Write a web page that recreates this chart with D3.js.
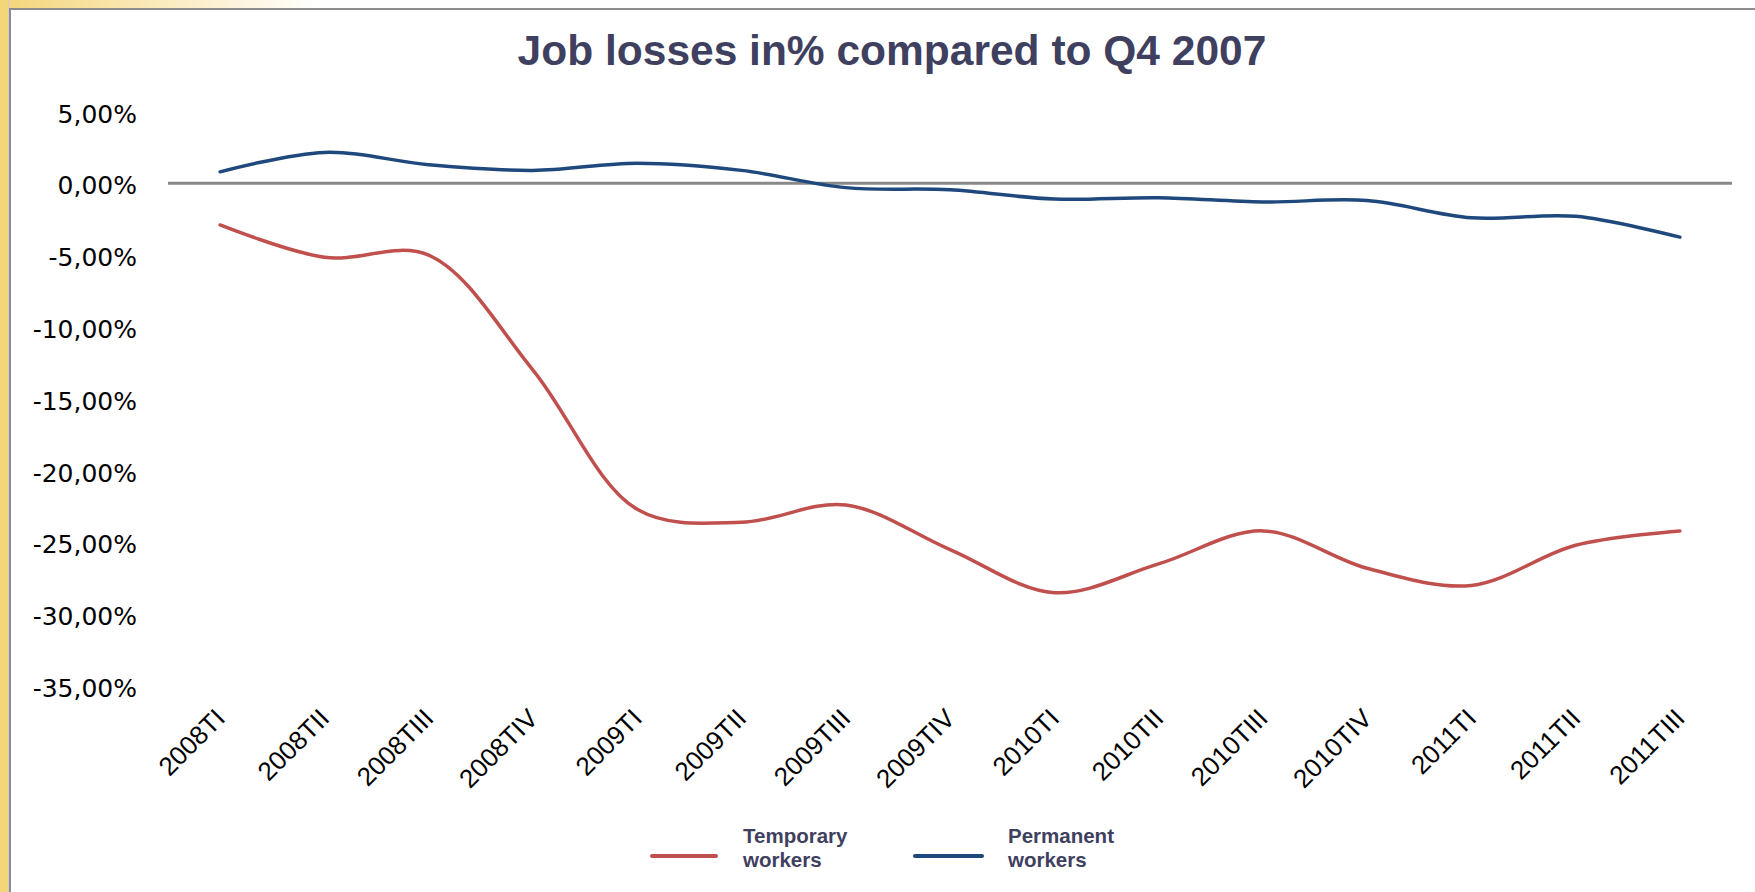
<!DOCTYPE html>
<html>
<head>
<meta charset="utf-8">
<script src="https://cdn.jsdelivr.net/npm/d3@7"></script>
<style>
  body { margin: 0; background: #fff; }
  svg { display: block; }
</style>
</head>
<body>
<svg id="chart"></svg>
<script>
// Quarters on the x axis
const quarters = ["2008TI", "2008TII", "2008TIII", "2008TIV", "2009TI", "2009TII", "2009TIII", "2009TIV",
    "2010TI", "2010TII", "2010TIII", "2010TIV", "2011TI", "2011TII", "2011TIII"];

// Job losses in % vs Q4 2007
const temporary = [-2.9, -5.15, -5.0, -13.0, -22.7, -23.6, -22.4, -25.5, -28.5, -26.5, -24.2, -26.8, -28.0, -25.2, -24.2];
const permanent = [0.8, 2.15, 1.3, 0.9, 1.4, 0.9, -0.3, -0.45, -1.1, -1.0, -1.3, -1.2, -2.4, -2.3, -3.75];

const yTicks = [5, 0, -5, -10, -15, -20, -25, -30, -35];

const series = [
    { name: ["Temporary", "workers"], values: temporary, color: "#C0504D" },
    { name: ["Permanent", "workers"], values: permanent, color: "#1F497D" },
];

const W = 1755, H = 892;
const titleColor = "#3f3f5f";

const svg = d3.select("#chart")
    .attr("width", W)
    .attr("height", H);

// frame decoration: yellow strip on the left, fading band on top, grey border
const defs = svg.append("defs");
const grad = defs.append("linearGradient")
    .attr("id", "topfade")
    .attr("x1", "0").attr("x2", "1").attr("y1", "0").attr("y2", "0");
grad.append("stop").attr("offset", "0%").attr("stop-color", "#F5D57A");
grad.append("stop").attr("offset", "100%").attr("stop-color", "#ffffff");

svg.append("rect").attr("x", 0).attr("y", 0).attr("width", 320).attr("height", 9).attr("fill", "url(#topfade)");
svg.append("rect").attr("x", 0).attr("y", 0).attr("width", 8).attr("height", H).attr("fill", "#F5D57A");
svg.append("rect").attr("x", 8).attr("y", 0).attr("width", 1).attr("height", H).attr("fill", "#cfcfcf");
svg.append("line").attr("x1", 10).attr("x2", 10).attr("y1", 8).attr("y2", H)
    .attr("stroke", "#8c8c8c").attr("stroke-width", 2);
svg.append("line").attr("x1", 9).attr("x2", W).attr("y1", 9).attr("y2", 9)
    .attr("stroke", "#8c8c8c").attr("stroke-width", 2);

// scales
const x = d3.scalePoint()
    .domain(quarters)
    .range([168, 1732])
    .padding(0.5);

const y = d3.scaleLinear()
    .domain([-35, 5])
    .range([686, 111.5]);

// title
svg.append("text")
    .attr("x", 892)
    .attr("y", 65)
    .attr("text-anchor", "middle")
    .attr("font-family", "Liberation Sans, Arial, sans-serif")
    .attr("font-weight", "bold")
    .attr("font-size", "42.5px")
    .attr("fill", titleColor)
    .text("Job losses in% compared to Q4 2007");

// y axis labels
const yAxis = svg.append("g")
    .attr("transform", "translate(137,0)")
    .call(d3.axisLeft(y)
        .tickValues(yTicks)
        .tickSize(0)
        .tickPadding(0)
        .tickFormat(d => d.toFixed(2).replace(".", ",") + "%"));
yAxis.select(".domain").remove();
yAxis.selectAll("text")
    .attr("font-family", "DejaVu Sans, Verdana, sans-serif")
    .attr("font-size", "25px")
    .attr("dy", "0.42em")
    .attr("fill", "#000");

// zero line
svg.append("line")
    .attr("x1", 168).attr("x2", 1732)
    .attr("y1", y(0)).attr("y2", y(0))
    .attr("stroke", "#898989")
    .attr("stroke-width", 3);

// x axis labels, rotated
const xAxis = svg.append("g")
    .attr("transform", `translate(0,${y(-35)})`)
    .call(d3.axisBottom(x).tickSize(0));
xAxis.select(".domain").remove();
xAxis.selectAll("text")
    .attr("x", 0)
    .attr("y", 0)
    .attr("dy", 0)
    .attr("text-anchor", "end")
    .attr("transform", "translate(6,34) rotate(-45)")
    .attr("font-family", "Liberation Sans, Arial, sans-serif")
    .attr("font-size", "26px")
    .attr("fill", "#000");

// smoothed lines
const line = d3.line()
    .x((d, i) => x(quarters[i]))
    .y(d => y(d))
    .curve(d3.curveCatmullRom.alpha(0.5));

svg.selectAll(".series")
    .data(series)
    .enter()
    .append("path")
    .attr("class", "series")
    .attr("d", d => line(d.values))
    .attr("fill", "none")
    .attr("stroke", d => d.color)
    .attr("stroke-width", 3.5)
    .attr("stroke-linecap", "round")
    .attr("stroke-linejoin", "round");

// legend
const legendX = [652, 915];
const legend = svg.selectAll(".legend")
    .data(series)
    .enter()
    .append("g")
    .attr("class", "legend")
    .attr("transform", (d, i) => `translate(${legendX[i]},856)`);

legend.append("line")
    .attr("x1", 0)
    .attr("x2", (d, i) => i === 0 ? 64 : 67)
    .attr("y1", 0).attr("y2", 0)
    .attr("stroke", d => d.color)
    .attr("stroke-width", 4)
    .attr("stroke-linecap", "round");

legend.append("text")
    .attr("x", (d, i) => i === 0 ? 91 : 93)
    .attr("y", -13)
    .attr("font-family", "Liberation Sans, Arial, sans-serif")
    .attr("font-weight", "bold")
    .attr("font-size", "20.5px")
    .attr("fill", titleColor)
    .selectAll("tspan")
    .data(d => d.name)
    .enter()
    .append("tspan")
    .attr("x", function () { return d3.select(this.parentNode).attr("x"); })
    .attr("dy", (d, i) => i === 0 ? 0 : 24)
    .text(d => d);
</script>
</body>
</html>
